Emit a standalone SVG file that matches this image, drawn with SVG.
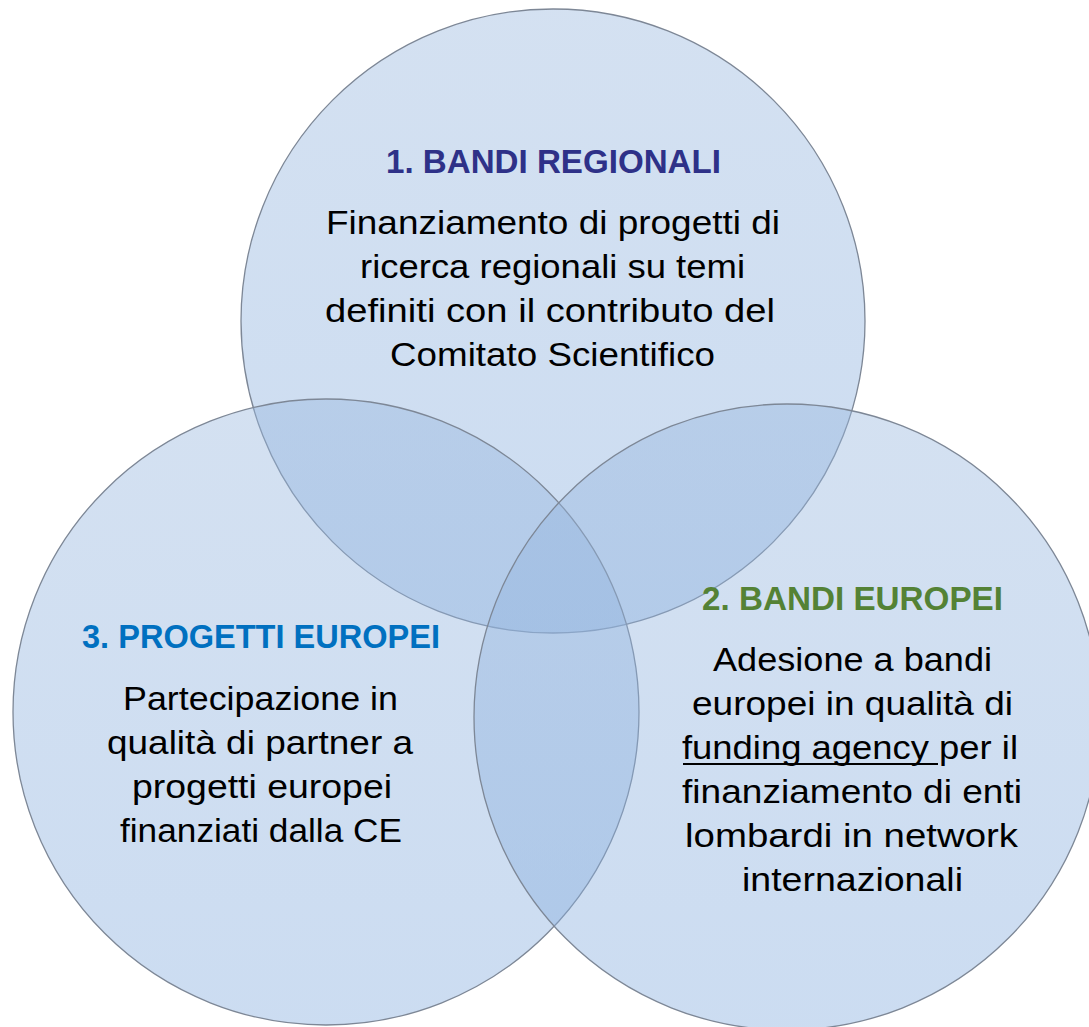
<svg xmlns="http://www.w3.org/2000/svg" width="1089" height="1027" viewBox="0 0 1089 1027">
  <defs>
    <linearGradient id="g" x1="0" y1="0" x2="0" y2="1">
      <stop offset="0" stop-color="rgb(152,183,222)"/>
      <stop offset="1" stop-color="rgb(132,172,222)"/>
    </linearGradient>
  </defs>
  <style>
    .c { fill: url(#g); fill-opacity: 0.42; stroke: #7d8796; stroke-width: 1.3; }
    .t { font-family: "Liberation Sans", Arial, sans-serif; font-size: 33px; font-weight: bold; text-anchor: middle; }
    .b { font-family: "Liberation Sans", Arial, sans-serif; font-size: 33px; fill: #000; text-anchor: middle; }
  </style>
  <rect width="1089" height="1027" fill="#fff"/>
  <g id="circle-1">
    <circle class="c" cx="553" cy="321" r="312"/>
  </g>
  <g id="circle-3">
    <circle class="c" cx="326" cy="712" r="313"/>
  </g>
  <g id="circle-2">
    <circle class="c" cx="787" cy="717" r="313"/>
  </g>
  <g id="node-1">
    <text class="t" x="553.5" y="173" fill="#2e3188" textLength="335" lengthAdjust="spacingAndGlyphs">1. BANDI REGIONALI</text>
    <text class="b" x="553" y="234" textLength="454" lengthAdjust="spacingAndGlyphs">Finanziamento di progetti di</text>
    <text class="b" x="552.5" y="278" textLength="385" lengthAdjust="spacingAndGlyphs">ricerca regionali su temi</text>
    <text class="b" x="550" y="322" textLength="450" lengthAdjust="spacingAndGlyphs">definiti con il contributo del</text>
    <text class="b" x="552.5" y="366" textLength="325" lengthAdjust="spacingAndGlyphs">Comitato Scientifico</text>
  </g>
  <g id="node-2">
    <text class="t" x="852.5" y="610" fill="#548235" textLength="301" lengthAdjust="spacingAndGlyphs">2. BANDI EUROPEI</text>
    <text class="b" x="852.5" y="671" textLength="279" lengthAdjust="spacingAndGlyphs">Adesione a bandi</text>
    <text class="b" x="852.5" y="715" textLength="321" lengthAdjust="spacingAndGlyphs">europei in qualità di</text>
    <text class="b" x="850" y="759" textLength="336" lengthAdjust="spacingAndGlyphs">funding agency per il</text>
    <line x1="683" y1="764" x2="938" y2="764" stroke="#000" stroke-width="2"/>
    <text class="b" x="852" y="803" textLength="340" lengthAdjust="spacingAndGlyphs">finanziamento di enti</text>
    <text class="b" x="851.5" y="847" textLength="333" lengthAdjust="spacingAndGlyphs">lombardi in network</text>
    <text class="b" x="852.5" y="891" textLength="221" lengthAdjust="spacingAndGlyphs">internazionali</text>
  </g>
  <g id="node-3">
    <text class="t" x="261" y="648" fill="#0070c0" textLength="358" lengthAdjust="spacingAndGlyphs">3. PROGETTI EUROPEI</text>
    <text class="b" x="260.5" y="710" textLength="275" lengthAdjust="spacingAndGlyphs">Partecipazione in</text>
    <text class="b" x="260" y="754" textLength="306" lengthAdjust="spacingAndGlyphs">qualità di partner a</text>
    <text class="b" x="262" y="798" textLength="260" lengthAdjust="spacingAndGlyphs">progetti europei</text>
    <text class="b" x="261" y="842" textLength="282" lengthAdjust="spacingAndGlyphs">finanziati dalla CE</text>
  </g>
  <g id="connectors"/>
</svg>
